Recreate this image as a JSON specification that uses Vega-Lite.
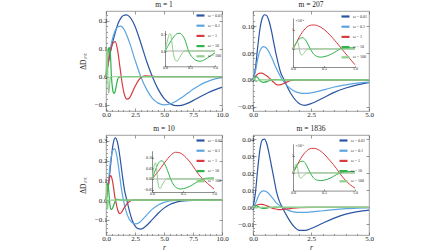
{
"$schema":"https://vega.github.io/schema/vega-lite/v6.json",
"background":"white",
"padding":{"left":78,"top":0,"right":2,"bottom":0},
"bounds":"flush",
"columns":2,
"spacing":{"row":24,"column":31},
"resolve":{"scale":{"color":"independent"},"legend":{"color":"independent"}},
"datasets":{
"zero":[{"a":0,"b":1,"z":0}],
"m1":[
{"w":"0.01","r":0,"v":0},{"w":"0.01","r":0.25,"v":0.06},{"w":"0.01","r":0.5,"v":0.11},{"w":"0.01","r":0.75,"v":0.15},{"w":"0.01","r":1,"v":0.185},{"w":"0.01","r":1.25,"v":0.207},{"w":"0.01","r":1.5,"v":0.218},{"w":"0.01","r":1.75,"v":0.22},{"w":"0.01","r":2,"v":0.215},{"w":"0.01","r":2.5,"v":0.18},{"w":"0.01","r":3,"v":0.12},{"w":"0.01","r":3.5,"v":0.055},{"w":"0.01","r":4,"v":0},{"w":"0.01","r":4.5,"v":-0.045},{"w":"0.01","r":5,"v":-0.077},{"w":"0.01","r":5.5,"v":-0.095},{"w":"0.01","r":6,"v":-0.103},{"w":"0.01","r":6.5,"v":-0.102},{"w":"0.01","r":7,"v":-0.095},{"w":"0.01","r":7.5,"v":-0.085},{"w":"0.01","r":8,"v":-0.074},{"w":"0.01","r":8.5,"v":-0.063},{"w":"0.01","r":9,"v":-0.053},{"w":"0.01","r":9.5,"v":-0.045},{"w":"0.01","r":10,"v":-0.038},
{"w":"0.1","r":0,"v":0},{"w":"0.1","r":0.25,"v":0.07},{"w":"0.1","r":0.5,"v":0.125},{"w":"0.1","r":0.75,"v":0.16},{"w":"0.1","r":1,"v":0.177},{"w":"0.1","r":1.25,"v":0.18},{"w":"0.1","r":1.5,"v":0.172},{"w":"0.1","r":2,"v":0.125},{"w":"0.1","r":2.5,"v":0.06},{"w":"0.1","r":3,"v":0},{"w":"0.1","r":3.5,"v":-0.045},{"w":"0.1","r":4,"v":-0.077},{"w":"0.1","r":4.5,"v":-0.094},{"w":"0.1","r":5,"v":-0.1},{"w":"0.1","r":5.5,"v":-0.097},{"w":"0.1","r":6,"v":-0.088},{"w":"0.1","r":6.5,"v":-0.075},{"w":"0.1","r":7,"v":-0.06},{"w":"0.1","r":7.5,"v":-0.045},{"w":"0.1","r":8,"v":-0.032},{"w":"0.1","r":8.5,"v":-0.021},{"w":"0.1","r":9,"v":-0.013},{"w":"0.1","r":9.5,"v":-0.007},{"w":"0.1","r":10,"v":-0.003},
{"w":"1","r":0,"v":0},{"w":"1","r":0.2,"v":0.05},{"w":"1","r":0.4,"v":0.095},{"w":"1","r":0.6,"v":0.12},{"w":"1","r":0.8,"v":0.125},{"w":"1","r":1,"v":0.095},{"w":"1","r":1.2,"v":0.035},{"w":"1","r":1.4,"v":-0.025},{"w":"1","r":1.6,"v":-0.065},{"w":"1","r":1.8,"v":-0.08},{"w":"1","r":2,"v":-0.077},{"w":"1","r":2.2,"v":-0.062},{"w":"1","r":2.5,"v":-0.035},{"w":"1","r":2.8,"v":-0.013},{"w":"1","r":3.1,"v":0},{"w":"1","r":3.4,"v":0.003},{"w":"1","r":3.8,"v":0.002},{"w":"1","r":4.5,"v":0},{"w":"1","r":10,"v":0},
{"w":"10","r":0,"v":0},{"w":"10","r":0.05,"v":0.025},{"w":"10","r":0.1,"v":0.05},{"w":"10","r":0.15,"v":0.073},{"w":"10","r":0.2,"v":0.092},{"w":"10","r":0.25,"v":0.103},{"w":"10","r":0.3,"v":0.104},{"w":"10","r":0.35,"v":0.092},{"w":"10","r":0.4,"v":0.065},{"w":"10","r":0.47,"v":0},{"w":"10","r":0.55,"v":-0.038},{"w":"10","r":0.62,"v":-0.055},{"w":"10","r":0.7,"v":-0.06},{"w":"10","r":0.8,"v":-0.05},{"w":"10","r":0.9,"v":-0.03},{"w":"10","r":1,"v":-0.01},{"w":"10","r":1.1,"v":-0.003},{"w":"10","r":1.3,"v":0},{"w":"10","r":10,"v":0},
{"w":"100","r":0,"v":0},{"w":"100","r":0.03,"v":0.04},{"w":"100","r":0.06,"v":0.075},{"w":"100","r":0.09,"v":0.1},{"w":"100","r":0.11,"v":0.1},{"w":"100","r":0.13,"v":0.07},{"w":"100","r":0.16,"v":0},{"w":"100","r":0.19,"v":-0.042},{"w":"100","r":0.22,"v":-0.058},{"w":"100","r":0.25,"v":-0.058},{"w":"100","r":0.29,"v":-0.04},{"w":"100","r":0.34,"v":-0.015},{"w":"100","r":0.39,"v":0},{"w":"100","r":1,"v":0},{"w":"100","r":10,"v":0}
],
"m1i":[
{"w":"10","r":0,"v":0},{"w":"10","r":0.05,"v":0.025},{"w":"10","r":0.1,"v":0.05},{"w":"10","r":0.15,"v":0.073},{"w":"10","r":0.2,"v":0.092},{"w":"10","r":0.25,"v":0.103},{"w":"10","r":0.3,"v":0.104},{"w":"10","r":0.35,"v":0.092},{"w":"10","r":0.4,"v":0.065},{"w":"10","r":0.47,"v":0},{"w":"10","r":0.55,"v":-0.038},{"w":"10","r":0.62,"v":-0.055},{"w":"10","r":0.7,"v":-0.06},{"w":"10","r":0.8,"v":-0.05},{"w":"10","r":0.9,"v":-0.03},{"w":"10","r":1,"v":-0.01},
{"w":"100","r":0,"v":0},{"w":"100","r":0.03,"v":0.04},{"w":"100","r":0.06,"v":0.075},{"w":"100","r":0.09,"v":0.1},{"w":"100","r":0.11,"v":0.1},{"w":"100","r":0.13,"v":0.07},{"w":"100","r":0.16,"v":0},{"w":"100","r":0.19,"v":-0.042},{"w":"100","r":0.22,"v":-0.058},{"w":"100","r":0.25,"v":-0.058},{"w":"100","r":0.29,"v":-0.04},{"w":"100","r":0.34,"v":-0.015},{"w":"100","r":0.39,"v":0},{"w":"100","r":1,"v":0}
],
"m207":[
{"w":"0.01","r":0,"v":0},{"w":"0.01","r":0.1,"v":0.02},{"w":"0.01","r":0.2,"v":0.06},{"w":"0.01","r":0.3,"v":0.095},{"w":"0.01","r":0.4,"v":0.115},{"w":"0.01","r":0.5,"v":0.121},{"w":"0.01","r":0.6,"v":0.119},{"w":"0.01","r":0.7,"v":0.108},{"w":"0.01","r":0.8,"v":0.09},{"w":"0.01","r":0.9,"v":0.068},{"w":"0.01","r":1,"v":0.047},{"w":"0.01","r":1.2,"v":0.013},{"w":"0.01","r":1.35,"v":0},{"w":"0.01","r":1.5,"v":-0.015},{"w":"0.01","r":1.75,"v":-0.033},{"w":"0.01","r":2,"v":-0.044},{"w":"0.01","r":2.25,"v":-0.047},{"w":"0.01","r":2.5,"v":-0.044},{"w":"0.01","r":3,"v":-0.034},{"w":"0.01","r":3.5,"v":-0.023},{"w":"0.01","r":4,"v":-0.015},{"w":"0.01","r":4.5,"v":-0.009},{"w":"0.01","r":5,"v":-0.005},
{"w":"0.1","r":0,"v":0},{"w":"0.1","r":0.1,"v":0.015},{"w":"0.1","r":0.2,"v":0.038},{"w":"0.1","r":0.3,"v":0.054},{"w":"0.1","r":0.45,"v":0.062},{"w":"0.1","r":0.6,"v":0.058},{"w":"0.1","r":0.8,"v":0.042},{"w":"0.1","r":1,"v":0.022},{"w":"0.1","r":1.27,"v":0},{"w":"0.1","r":1.5,"v":-0.012},{"w":"0.1","r":1.75,"v":-0.02},{"w":"0.1","r":2,"v":-0.024},{"w":"0.1","r":2.25,"v":-0.025},{"w":"0.1","r":2.5,"v":-0.024},{"w":"0.1","r":3,"v":-0.019},{"w":"0.1","r":3.5,"v":-0.013},{"w":"0.1","r":4,"v":-0.009},{"w":"0.1","r":4.5,"v":-0.006},{"w":"0.1","r":5,"v":-0.004},
{"w":"1","r":0,"v":0},{"w":"1","r":0.05,"v":0.003},{"w":"1","r":0.1,"v":0.0062},{"w":"1","r":0.15,"v":0.0088},{"w":"1","r":0.2,"v":0.0108},{"w":"1","r":0.25,"v":0.0121},{"w":"1","r":0.3,"v":0.0126},{"w":"1","r":0.35,"v":0.0126},{"w":"1","r":0.4,"v":0.0122},{"w":"1","r":0.5,"v":0.0103},{"w":"1","r":0.6,"v":0.0072},{"w":"1","r":0.7,"v":0.0035},{"w":"1","r":0.8,"v":-0.0005},{"w":"1","r":0.9,"v":-0.0045},{"w":"1","r":1,"v":-0.0083},{"w":"1","r":1.1,"v":-0.0093},{"w":"1","r":1.2,"v":-0.0088},{"w":"1","r":1.4,"v":-0.005},{"w":"1","r":1.6,"v":-0.0015},{"w":"1","r":1.8,"v":0},{"w":"1","r":5,"v":0},
{"w":"10","r":0,"v":0},{"w":"10","r":0.04,"v":0.0025},{"w":"10","r":0.08,"v":0.0045},{"w":"10","r":0.12,"v":0.0057},{"w":"10","r":0.16,"v":0.0059},{"w":"10","r":0.2,"v":0.0048},{"w":"10","r":0.24,"v":0.0025},{"w":"10","r":0.28,"v":0},{"w":"10","r":0.32,"v":-0.0022},{"w":"10","r":0.38,"v":-0.0038},{"w":"10","r":0.44,"v":-0.0043},{"w":"10","r":0.5,"v":-0.0041},{"w":"10","r":0.6,"v":-0.003},{"w":"10","r":0.7,"v":-0.0012},{"w":"10","r":0.76,"v":0},{"w":"10","r":0.85,"v":0.0006},{"w":"10","r":1,"v":0.0006},{"w":"10","r":1.2,"v":0.0003},{"w":"10","r":1.5,"v":0},{"w":"10","r":5,"v":0},
{"w":"100","r":0,"v":0},{"w":"100","r":0.03,"v":0.0022},{"w":"100","r":0.06,"v":0.0037},{"w":"100","r":0.08,"v":0.0035},{"w":"100","r":0.1,"v":0.0005},{"w":"100","r":0.12,"v":-0.0025},{"w":"100","r":0.14,"v":-0.0032},{"w":"100","r":0.17,"v":-0.0025},{"w":"100","r":0.2,"v":-0.0012},{"w":"100","r":0.25,"v":0},{"w":"100","r":1,"v":0},{"w":"100","r":5,"v":0}
],
"m207i":[
{"w":"1","r":0,"v":0},{"w":"1","r":0.05,"v":0.003},{"w":"1","r":0.1,"v":0.0062},{"w":"1","r":0.15,"v":0.0088},{"w":"1","r":0.2,"v":0.0108},{"w":"1","r":0.25,"v":0.0121},{"w":"1","r":0.3,"v":0.0126},{"w":"1","r":0.35,"v":0.0126},{"w":"1","r":0.4,"v":0.0122},{"w":"1","r":0.5,"v":0.0103},{"w":"1","r":0.6,"v":0.0072},{"w":"1","r":0.7,"v":0.0035},{"w":"1","r":0.8,"v":-0.0005},{"w":"1","r":0.9,"v":-0.0045},{"w":"1","r":1,"v":-0.0083},
{"w":"10","r":0,"v":0},{"w":"10","r":0.04,"v":0.0025},{"w":"10","r":0.08,"v":0.0045},{"w":"10","r":0.12,"v":0.0057},{"w":"10","r":0.16,"v":0.0059},{"w":"10","r":0.2,"v":0.0048},{"w":"10","r":0.24,"v":0.0025},{"w":"10","r":0.28,"v":0},{"w":"10","r":0.32,"v":-0.0022},{"w":"10","r":0.38,"v":-0.0038},{"w":"10","r":0.44,"v":-0.0043},{"w":"10","r":0.5,"v":-0.0041},{"w":"10","r":0.6,"v":-0.003},{"w":"10","r":0.7,"v":-0.0012},{"w":"10","r":0.76,"v":0},{"w":"10","r":0.85,"v":0.0006},{"w":"10","r":1,"v":0.0006},
{"w":"100","r":0,"v":0},{"w":"100","r":0.03,"v":0.0022},{"w":"100","r":0.06,"v":0.0037},{"w":"100","r":0.08,"v":0.0035},{"w":"100","r":0.1,"v":0.0005},{"w":"100","r":0.12,"v":-0.0025},{"w":"100","r":0.14,"v":-0.0032},{"w":"100","r":0.17,"v":-0.0025},{"w":"100","r":0.2,"v":-0.0012},{"w":"100","r":0.25,"v":0},{"w":"100","r":1,"v":0}
],
"m10":[
{"w":"0.01","r":0,"v":0},{"w":"0.01","r":0.2,"v":0.07},{"w":"0.01","r":0.4,"v":0.18},{"w":"0.01","r":0.6,"v":0.28},{"w":"0.01","r":0.8,"v":0.315},{"w":"0.01","r":1,"v":0.29},{"w":"0.01","r":1.2,"v":0.22},{"w":"0.01","r":1.4,"v":0.13},{"w":"0.01","r":1.6,"v":0.05},{"w":"0.01","r":1.8,"v":0},{"w":"0.01","r":2,"v":-0.05},{"w":"0.01","r":2.25,"v":-0.1},{"w":"0.01","r":2.5,"v":-0.13},{"w":"0.01","r":2.75,"v":-0.144},{"w":"0.01","r":3,"v":-0.146},{"w":"0.01","r":3.5,"v":-0.128},{"w":"0.01","r":4,"v":-0.097},{"w":"0.01","r":4.5,"v":-0.066},{"w":"0.01","r":5,"v":-0.04},{"w":"0.01","r":5.5,"v":-0.022},{"w":"0.01","r":6,"v":-0.011},{"w":"0.01","r":6.5,"v":-0.005},{"w":"0.01","r":7,"v":-0.002},{"w":"0.01","r":8,"v":0},{"w":"0.01","r":10,"v":0},
{"w":"0.1","r":0,"v":0},{"w":"0.1","r":0.2,"v":0.09},{"w":"0.1","r":0.4,"v":0.2},{"w":"0.1","r":0.6,"v":0.255},{"w":"0.1","r":0.75,"v":0.26},{"w":"0.1","r":0.9,"v":0.235},{"w":"0.1","r":1.1,"v":0.16},{"w":"0.1","r":1.3,"v":0.07},{"w":"0.1","r":1.5,"v":0},{"w":"0.1","r":1.7,"v":-0.05},{"w":"0.1","r":2,"v":-0.095},{"w":"0.1","r":2.3,"v":-0.115},{"w":"0.1","r":2.6,"v":-0.12},{"w":"0.1","r":3,"v":-0.107},{"w":"0.1","r":3.5,"v":-0.075},{"w":"0.1","r":4,"v":-0.045},{"w":"0.1","r":4.5,"v":-0.024},{"w":"0.1","r":5,"v":-0.011},{"w":"0.1","r":5.5,"v":-0.004},{"w":"0.1","r":6,"v":-0.001},{"w":"0.1","r":7,"v":0},{"w":"0.1","r":10,"v":0},
{"w":"1","r":0,"v":0},{"w":"1","r":0.1,"v":0.035},{"w":"1","r":0.2,"v":0.075},{"w":"1","r":0.3,"v":0.11},{"w":"1","r":0.38,"v":0.125},{"w":"1","r":0.45,"v":0.122},{"w":"1","r":0.55,"v":0.1},{"w":"1","r":0.65,"v":0.065},{"w":"1","r":0.75,"v":0.022},{"w":"1","r":0.82,"v":0},{"w":"1","r":0.9,"v":-0.022},{"w":"1","r":1,"v":-0.047},{"w":"1","r":1.1,"v":-0.063},{"w":"1","r":1.2,"v":-0.068},{"w":"1","r":1.35,"v":-0.06},{"w":"1","r":1.5,"v":-0.045},{"w":"1","r":1.75,"v":-0.022},{"w":"1","r":2,"v":-0.008},{"w":"1","r":2.3,"v":0},{"w":"1","r":10,"v":0},
{"w":"10","r":0,"v":0},{"w":"10","r":0.04,"v":0.03},{"w":"10","r":0.08,"v":0.06},{"w":"10","r":0.12,"v":0.08},{"w":"10","r":0.16,"v":0.085},{"w":"10","r":0.2,"v":0.072},{"w":"10","r":0.25,"v":0.04},{"w":"10","r":0.3,"v":0},{"w":"10","r":0.35,"v":-0.028},{"w":"10","r":0.4,"v":-0.042},{"w":"10","r":0.46,"v":-0.047},{"w":"10","r":0.55,"v":-0.042},{"w":"10","r":0.65,"v":-0.028},{"w":"10","r":0.75,"v":-0.01},{"w":"10","r":0.82,"v":0},{"w":"10","r":0.9,"v":0.004},{"w":"10","r":1,"v":0.005},{"w":"10","r":1.2,"v":0.002},{"w":"10","r":1.5,"v":0},{"w":"10","r":10,"v":0},
{"w":"100","r":0,"v":0},{"w":"100","r":0.02,"v":0.035},{"w":"100","r":0.04,"v":0.068},{"w":"100","r":0.055,"v":0.076},{"w":"100","r":0.07,"v":0.06},{"w":"100","r":0.09,"v":0},{"w":"100","r":0.11,"v":-0.038},{"w":"100","r":0.13,"v":-0.045},{"w":"100","r":0.16,"v":-0.03},{"w":"100","r":0.2,"v":-0.01},{"w":"100","r":0.24,"v":0},{"w":"100","r":1,"v":0},{"w":"100","r":10,"v":0}
],
"m10i":[
{"w":"1","r":0,"v":0},{"w":"1","r":0.1,"v":0.035},{"w":"1","r":0.2,"v":0.075},{"w":"1","r":0.3,"v":0.11},{"w":"1","r":0.38,"v":0.125},{"w":"1","r":0.45,"v":0.122},{"w":"1","r":0.55,"v":0.1},{"w":"1","r":0.65,"v":0.065},{"w":"1","r":0.75,"v":0.022},{"w":"1","r":0.82,"v":0},{"w":"1","r":0.9,"v":-0.022},{"w":"1","r":1,"v":-0.047},
{"w":"10","r":0,"v":0},{"w":"10","r":0.04,"v":0.03},{"w":"10","r":0.08,"v":0.06},{"w":"10","r":0.12,"v":0.08},{"w":"10","r":0.16,"v":0.085},{"w":"10","r":0.2,"v":0.072},{"w":"10","r":0.25,"v":0.04},{"w":"10","r":0.3,"v":0},{"w":"10","r":0.35,"v":-0.028},{"w":"10","r":0.4,"v":-0.042},{"w":"10","r":0.46,"v":-0.047},{"w":"10","r":0.55,"v":-0.042},{"w":"10","r":0.65,"v":-0.028},{"w":"10","r":0.75,"v":-0.01},{"w":"10","r":0.82,"v":0},{"w":"10","r":0.9,"v":0.004},{"w":"10","r":1,"v":0.005},
{"w":"100","r":0,"v":0},{"w":"100","r":0.02,"v":0.035},{"w":"100","r":0.04,"v":0.068},{"w":"100","r":0.055,"v":0.076},{"w":"100","r":0.07,"v":0.06},{"w":"100","r":0.09,"v":0},{"w":"100","r":0.11,"v":-0.038},{"w":"100","r":0.13,"v":-0.045},{"w":"100","r":0.16,"v":-0.03},{"w":"100","r":0.2,"v":-0.01},{"w":"100","r":0.24,"v":0},{"w":"100","r":1,"v":0}
],
"m1836":[
{"w":"0.01","r":0,"v":0},{"w":"0.01","r":0.1,"v":0.008},{"w":"0.01","r":0.2,"v":0.022},{"w":"0.01","r":0.3,"v":0.034},{"w":"0.01","r":0.4,"v":0.0395},{"w":"0.01","r":0.5,"v":0.04},{"w":"0.01","r":0.6,"v":0.037},{"w":"0.01","r":0.7,"v":0.031},{"w":"0.01","r":0.8,"v":0.024},{"w":"0.01","r":0.9,"v":0.017},{"w":"0.01","r":1,"v":0.01},{"w":"0.01","r":1.1,"v":0.005},{"w":"0.01","r":1.26,"v":0},{"w":"0.01","r":1.5,"v":-0.006},{"w":"0.01","r":1.75,"v":-0.011},{"w":"0.01","r":2,"v":-0.0135},{"w":"0.01","r":2.25,"v":-0.0135},{"w":"0.01","r":2.5,"v":-0.0124},{"w":"0.01","r":3,"v":-0.0093},{"w":"0.01","r":3.5,"v":-0.0063},{"w":"0.01","r":4,"v":-0.004},{"w":"0.01","r":4.5,"v":-0.0025},{"w":"0.01","r":5,"v":-0.0016},
{"w":"0.1","r":0,"v":0},{"w":"0.1","r":0.1,"v":0.002},{"w":"0.1","r":0.2,"v":0.0055},{"w":"0.1","r":0.3,"v":0.0083},{"w":"0.1","r":0.45,"v":0.0096},{"w":"0.1","r":0.6,"v":0.009},{"w":"0.1","r":0.8,"v":0.0062},{"w":"0.1","r":1,"v":0.0028},{"w":"0.1","r":1.26,"v":0},{"w":"0.1","r":1.5,"v":-0.0016},{"w":"0.1","r":1.75,"v":-0.0026},{"w":"0.1","r":2,"v":-0.003},{"w":"0.1","r":2.25,"v":-0.003},{"w":"0.1","r":2.5,"v":-0.0027},{"w":"0.1","r":3,"v":-0.002},{"w":"0.1","r":3.5,"v":-0.0013},{"w":"0.1","r":4,"v":-0.0008},{"w":"0.1","r":4.5,"v":-0.0005},{"w":"0.1","r":5,"v":-0.0003},
{"w":"1","r":0,"v":0},{"w":"1","r":0.1,"v":0.0009},{"w":"1","r":0.2,"v":0.0015},{"w":"1","r":0.3,"v":0.0018},{"w":"1","r":0.4,"v":0.0017},{"w":"1","r":0.5,"v":0.0014},{"w":"1","r":0.6,"v":0.0009},{"w":"1","r":0.75,"v":0},{"w":"1","r":0.9,"v":-0.0007},{"w":"1","r":1.1,"v":-0.0013},{"w":"1","r":1.3,"v":-0.0012},{"w":"1","r":1.6,"v":-0.0007},{"w":"1","r":2,"v":-0.0001},{"w":"1","r":2.5,"v":0},{"w":"1","r":5,"v":0},
{"w":"10","r":0,"v":0},{"w":"10","r":0.08,"v":0.0007},{"w":"10","r":0.16,"v":0.0009},{"w":"10","r":0.28,"v":0},{"w":"10","r":0.44,"v":-0.0006},{"w":"10","r":0.6,"v":-0.0004},{"w":"10","r":0.76,"v":0},{"w":"10","r":1,"v":0.0001},{"w":"10","r":1.5,"v":0},{"w":"10","r":5,"v":0},
{"w":"100","r":0,"v":0},{"w":"100","r":0.05,"v":0.0007},{"w":"100","r":0.09,"v":0},{"w":"100","r":0.13,"v":-0.0004},{"w":"100","r":0.24,"v":0},{"w":"100","r":5,"v":0}
],
"m1836i":[
{"w":"1","r":0,"v":0},{"w":"1","r":0.05,"v":0.0017},{"w":"1","r":0.1,"v":0.0034},{"w":"1","r":0.15,"v":0.0049},{"w":"1","r":0.2,"v":0.006},{"w":"1","r":0.25,"v":0.0068},{"w":"1","r":0.3,"v":0.0071},{"w":"1","r":0.35,"v":0.0071},{"w":"1","r":0.4,"v":0.0068},{"w":"1","r":0.5,"v":0.0055},{"w":"1","r":0.6,"v":0.0035},{"w":"1","r":0.7,"v":0.0013},{"w":"1","r":0.75,"v":0},{"w":"1","r":0.85,"v":-0.0022},{"w":"1","r":1,"v":-0.0044},
{"w":"10","r":0,"v":0},{"w":"10","r":0.04,"v":0.0014},{"w":"10","r":0.08,"v":0.0026},{"w":"10","r":0.12,"v":0.0033},{"w":"10","r":0.16,"v":0.0034},{"w":"10","r":0.2,"v":0.0028},{"w":"10","r":0.24,"v":0.0014},{"w":"10","r":0.28,"v":0},{"w":"10","r":0.32,"v":-0.0012},{"w":"10","r":0.38,"v":-0.002},{"w":"10","r":0.44,"v":-0.0022},{"w":"10","r":0.5,"v":-0.0021},{"w":"10","r":0.6,"v":-0.0015},{"w":"10","r":0.7,"v":-0.0005},{"w":"10","r":0.76,"v":0},{"w":"10","r":0.85,"v":0.0004},{"w":"10","r":1,"v":0.0004},
{"w":"100","r":0,"v":0},{"w":"100","r":0.02,"v":0.0012},{"w":"100","r":0.04,"v":0.0023},{"w":"100","r":0.055,"v":0.0026},{"w":"100","r":0.07,"v":0.0018},{"w":"100","r":0.09,"v":-0.0002},{"w":"100","r":0.11,"v":-0.0013},{"w":"100","r":0.13,"v":-0.0015},{"w":"100","r":0.16,"v":-0.001},{"w":"100","r":0.2,"v":-0.0003},{"w":"100","r":0.24,"v":0},{"w":"100","r":1,"v":0}
]
},
"concat":[
{"width":116,"height":100,"title":{"text":"m = 1"},
 "layer":[
  {"data":{"name":"m1"},"mark":{"type":"line","strokeWidth":1.2,"interpolate":"monotone"},
   "encoding":{
    "x":{"field":"r","type":"quantitative","scale":{"domain":[0,10],"nice":false,"zero":false},"axis":{"values":[0,2.5,5,7.5,10],"format":".1f","title":null}},
    "y":{"field":"v","type":"quantitative","scale":{"domain":[-0.122,0.234],"nice":false,"zero":false},"axis":{"values":[-0.1,0,0.1,0.2],"format":".1f","title":"ΔDᵢₙₜ","minExtent":16,"maxExtent":16,"titlePadding":3}},
    "color":{"field":"w","type":"nominal","scale":{"domain":["0.01","0.1","1","10","100"],"range":["#2a55a3","#5ba4e0","#d73a3f","#2fb34d","#8fce8c"]},"legend":{"legendX":91,"legendY":1,"labelExpr":"'ω = ' + datum.label"}}}},
  {"data":{"name":"zero"},"mark":{"type":"point","opacity":0},
   "encoding":{"x":{"field":"a","type":"quantitative","scale":{"domain":[0,10],"nice":false,"zero":false},"axis":{"orient":"top","values":[0,2.5,5,7.5,10],"labels":false,"title":null}},
    "y":{"field":"z","type":"quantitative","scale":{"domain":[-0.122,0.234],"nice":false,"zero":false},"axis":{"orient":"right","values":[-0.1,0,0.1,0.2],"labels":false,"title":null}}}},
  {"data":{"name":"zero"},"mark":{"type":"point","opacity":0},
   "encoding":{"x":{"field":"a","type":"quantitative","scale":{"domain":[0,10],"nice":false,"zero":false},"axis":{"orient":"bottom","values":[0.5,1,1.5,2,3,3.5,4,4.5,5.5,6,6.5,7,8,8.5,9,9.5],"labels":false,"title":null,"tickSize":-1.5}},
    "y":{"field":"z","type":"quantitative","scale":{"domain":[-0.122,0.234],"nice":false,"zero":false},"axis":{"orient":"left","values":[-0.12,-0.08,-0.06,-0.04,-0.02,0.02,0.04,0.06,0.08,0.12,0.14,0.16,0.18,0.22],"labels":false,"title":null,"tickSize":-1.5}}}},
  {"data":{"name":"zero"},"mark":{"type":"rule","color":"#8a8a8a","strokeWidth":0.7},
   "encoding":{"x":{"field":"a","type":"quantitative","scale":{"domain":[0,1],"range":[59,109],"nice":false,"zero":false},"axis":null},"x2":{"field":"b"},
    "y":{"field":"z","type":"quantitative","scale":{"domain":[-0.09,0.12],"range":[55.3,19.6],"nice":false,"zero":false},"axis":null}}},
  {"data":{"name":"m1i"},"mark":{"type":"line","strokeWidth":1,"interpolate":"monotone"},
   "encoding":{
    "x":{"field":"r","type":"quantitative","scale":{"domain":[0,1],"range":[59,109],"nice":false,"zero":false},"axis":{"orient":"bottom","offset":-44.7,"values":[0,0.5,1],"format":".1f","title":null,"domain":true,"domainColor":"#444","domainWidth":0.6,"tickSize":-1.5,"labelFontSize":4,"labelPadding":1}},
    "y":{"field":"v","type":"quantitative","scale":{"domain":[-0.09,0.12],"range":[55.3,19.6],"nice":false,"zero":false},"axis":{"orient":"left","offset":-59,"values":[0,0.1],"format":".1f","title":null,"domain":true,"domainColor":"#444","domainWidth":0.6,"tickSize":-1.5,"labelFontSize":4,"labelPadding":1}},
    "color":{"field":"w","type":"nominal","scale":{"domain":["0.01","0.1","1","10","100"],"range":["#2a55a3","#5ba4e0","#d73a3f","#2fb34d","#8fce8c"]}}}}
 ],
 "resolve":{"scale":{"x":"independent","y":"independent"}}},
{"width":116,"height":100,"title":{"text":"m = 207"},
 "layer":[
  {"data":{"name":"m207"},"mark":{"type":"line","strokeWidth":1.2,"interpolate":"monotone"},
   "encoding":{
    "x":{"field":"r","type":"quantitative","scale":{"domain":[0,5],"nice":false,"zero":false},"axis":{"values":[0,2.5,5],"format":".1f","title":null}},
    "y":{"field":"v","type":"quantitative","scale":{"domain":[-0.0576,0.128],"nice":false,"zero":false},"axis":{"values":[-0.05,0,0.05,0.1],"format":".2f","title":null}},
    "color":{"field":"w","type":"nominal","scale":{"domain":["0.01","0.1","1","10","100"],"range":["#2a55a3","#5ba4e0","#d73a3f","#2fb34d","#8fce8c"]},"legend":{"legendX":89,"legendY":2,"labelExpr":"'ω = ' + datum.label"}}}},
  {"data":{"name":"zero"},"mark":{"type":"point","opacity":0},
   "encoding":{"x":{"field":"a","type":"quantitative","scale":{"domain":[0,5],"nice":false,"zero":false},"axis":{"orient":"top","values":[0,2.5,5],"labels":false,"title":null}},
    "y":{"field":"z","type":"quantitative","scale":{"domain":[-0.0576,0.128],"nice":false,"zero":false},"axis":{"orient":"right","values":[-0.05,0,0.05,0.1],"labels":false,"title":null}}}},
  {"data":{"name":"zero"},"mark":{"type":"point","opacity":0},
   "encoding":{"x":{"field":"a","type":"quantitative","scale":{"domain":[0,5],"nice":false,"zero":false},"axis":{"orient":"bottom","values":[0.5,1,1.5,2,3,3.5,4,4.5],"labels":false,"title":null,"tickSize":-1.5}},
    "y":{"field":"z","type":"quantitative","scale":{"domain":[-0.0576,0.128],"nice":false,"zero":false},"axis":{"orient":"left","values":[-0.04,-0.03,-0.02,-0.01,0.01,0.02,0.03,0.04,0.06,0.07,0.08,0.09,0.11,0.12],"labels":false,"title":null,"tickSize":-1.5}}}},
  {"data":{"name":"zero"},"mark":{"type":"rule","color":"#8a8a8a","strokeWidth":0.7},
   "encoding":{"x":{"field":"a","type":"quantitative","scale":{"domain":[0,1],"range":[40,102],"nice":false,"zero":false},"axis":null},"x2":{"field":"b"},
    "y":{"field":"z","type":"quantitative","scale":{"domain":[-0.0095,0.0163],"range":[56,7],"nice":false,"zero":false},"axis":null}}},
  {"data":{"name":"m207i"},"mark":{"type":"line","strokeWidth":1,"interpolate":"monotone"},
   "encoding":{
    "x":{"field":"r","type":"quantitative","scale":{"domain":[0,1],"range":[40,102],"nice":false,"zero":false},"axis":{"orient":"bottom","offset":-44,"values":[0,0.5,1],"format":".1f","title":null,"domain":true,"domainColor":"#444","domainWidth":0.6,"tickSize":-1.5,"labelFontSize":4,"labelPadding":1}},
    "y":{"field":"v","type":"quantitative","scale":{"domain":[-0.0095,0.0163],"range":[56,7],"nice":false,"zero":false},"axis":{"orient":"left","offset":-40,"values":[0,0.01],"labelExpr":"datum.value == 0 ? '0' : '1'","title":"×10⁻²","titleAngle":0,"titleX":2,"titleY":9,"titleAlign":"left","titleBaseline":"middle","titleFontSize":4,"domain":true,"domainColor":"#444","domainWidth":0.6,"tickSize":-1.5,"labelFontSize":4,"labelPadding":1}},
    "color":{"field":"w","type":"nominal","scale":{"domain":["0.01","0.1","1","10","100"],"range":["#2a55a3","#5ba4e0","#d73a3f","#2fb34d","#8fce8c"]}}}}
 ],
 "resolve":{"scale":{"x":"independent","y":"independent"}}},
{"width":116,"height":100,"title":{"text":"m = 10"},
 "layer":[
  {"data":{"name":"m10"},"mark":{"type":"line","strokeWidth":1.2,"interpolate":"monotone"},
   "encoding":{
    "x":{"field":"r","type":"quantitative","scale":{"domain":[0,10],"nice":false,"zero":false},"axis":{"values":[0,2.5,5,7.5,10],"format":".1f","title":"r","titleFontStyle":"italic","titlePadding":2}},
    "y":{"field":"v","type":"quantitative","scale":{"domain":[-0.176,0.33],"nice":false,"zero":false},"axis":{"values":[-0.1,0,0.1,0.2,0.3],"format":".1f","title":"ΔDᵢₙₜ","minExtent":16,"maxExtent":16,"titlePadding":3}},
    "color":{"field":"w","type":"nominal","scale":{"domain":["0.01","0.1","1","10","100"],"range":["#2a55a3","#5ba4e0","#d73a3f","#2fb34d","#8fce8c"]},"legend":{"legendX":91,"legendY":2,"labelExpr":"'ω = ' + datum.label"}}}},
  {"data":{"name":"zero"},"mark":{"type":"point","opacity":0},
   "encoding":{"x":{"field":"a","type":"quantitative","scale":{"domain":[0,10],"nice":false,"zero":false},"axis":{"orient":"top","values":[0,2.5,5,7.5,10],"labels":false,"title":null}},
    "y":{"field":"z","type":"quantitative","scale":{"domain":[-0.176,0.33],"nice":false,"zero":false},"axis":{"orient":"right","values":[-0.1,0,0.1,0.2,0.3],"labels":false,"title":null}}}},
  {"data":{"name":"zero"},"mark":{"type":"point","opacity":0},
   "encoding":{"x":{"field":"a","type":"quantitative","scale":{"domain":[0,10],"nice":false,"zero":false},"axis":{"orient":"bottom","values":[0.5,1,1.5,2,3,3.5,4,4.5,5.5,6,6.5,7,8,8.5,9,9.5],"labels":false,"title":null,"tickSize":-1.5}},
    "y":{"field":"z","type":"quantitative","scale":{"domain":[-0.176,0.33],"nice":false,"zero":false},"axis":{"orient":"left","values":[-0.16,-0.14,-0.12,-0.08,-0.06,-0.04,-0.02,0.02,0.04,0.06,0.08,0.12,0.14,0.16,0.18,0.22,0.24,0.26,0.28,0.32],"labels":false,"title":null,"tickSize":-1.5}}}},
  {"data":{"name":"zero"},"mark":{"type":"rule","color":"#8a8a8a","strokeWidth":0.7},
   "encoding":{"x":{"field":"a","type":"quantitative","scale":{"domain":[0,1],"range":[46,108],"nice":false,"zero":false},"axis":null},"x2":{"field":"b"},
    "y":{"field":"z","type":"quantitative","scale":{"domain":[-0.061,0.132],"range":[57,15.75],"nice":false,"zero":false},"axis":null}}},
  {"data":{"name":"m10i"},"mark":{"type":"line","strokeWidth":1,"interpolate":"monotone"},
   "encoding":{
    "x":{"field":"r","type":"quantitative","scale":{"domain":[0,1],"range":[46,108],"nice":false,"zero":false},"axis":{"orient":"bottom","offset":-43,"values":[0,0.5,1],"format":".1f","title":null,"domain":true,"domainColor":"#444","domainWidth":0.6,"tickSize":-1.5,"labelFontSize":4,"labelPadding":1}},
    "y":{"field":"v","type":"quantitative","scale":{"domain":[-0.061,0.132],"range":[57,15.75],"nice":false,"zero":false},"axis":{"orient":"left","offset":-46,"values":[-0.05,0,0.05,0.1],"format":".2f","title":null,"domain":true,"domainColor":"#444","domainWidth":0.6,"tickSize":-1.5,"labelFontSize":4,"labelPadding":1}},
    "color":{"field":"w","type":"nominal","scale":{"domain":["0.01","0.1","1","10","100"],"range":["#2a55a3","#5ba4e0","#d73a3f","#2fb34d","#8fce8c"]}}}}
 ],
 "resolve":{"scale":{"x":"independent","y":"independent"}}},
{"width":116,"height":100,"title":{"text":"m = 1836"},
 "layer":[
  {"data":{"name":"m1836"},"mark":{"type":"line","strokeWidth":1.2,"interpolate":"monotone"},
   "encoding":{
    "x":{"field":"r","type":"quantitative","scale":{"domain":[0,5],"nice":false,"zero":false},"axis":{"values":[0,2.5,5],"format":".1f","title":"r","titleFontStyle":"italic","titlePadding":2}},
    "y":{"field":"v","type":"quantitative","scale":{"domain":[-0.0162,0.0424],"nice":false,"zero":false},"axis":{"values":[-0.01,0,0.01,0.02,0.03,0.04],"format":".2f","title":null}},
    "color":{"field":"w","type":"nominal","scale":{"domain":["0.01","0.1","1","10","100"],"range":["#2a55a3","#5ba4e0","#d73a3f","#2fb34d","#8fce8c"]},"legend":{"legendX":87,"legendY":2,"labelExpr":"'ω = ' + datum.label"}}}},
  {"data":{"name":"zero"},"mark":{"type":"point","opacity":0},
   "encoding":{"x":{"field":"a","type":"quantitative","scale":{"domain":[0,5],"nice":false,"zero":false},"axis":{"orient":"top","values":[0,2.5,5],"labels":false,"title":null}},
    "y":{"field":"z","type":"quantitative","scale":{"domain":[-0.0162,0.0424],"nice":false,"zero":false},"axis":{"orient":"right","values":[-0.01,0,0.01,0.02,0.03,0.04],"labels":false,"title":null}}}},
  {"data":{"name":"zero"},"mark":{"type":"point","opacity":0},
   "encoding":{"x":{"field":"a","type":"quantitative","scale":{"domain":[0,5],"nice":false,"zero":false},"axis":{"orient":"bottom","values":[0.5,1,1.5,2,3,3.5,4,4.5],"labels":false,"title":null,"tickSize":-1.5}},
    "y":{"field":"z","type":"quantitative","scale":{"domain":[-0.0162,0.0424],"nice":false,"zero":false},"axis":{"orient":"left","values":[-0.016,-0.014,-0.012,-0.008,-0.006,-0.004,-0.002,0.002,0.004,0.006,0.008,0.012,0.014,0.016,0.018,0.022,0.024,0.026,0.028,0.032,0.034,0.036,0.038,0.042],"labels":false,"title":null,"tickSize":-1.5}}}},
  {"data":{"name":"zero"},"mark":{"type":"rule","color":"#8a8a8a","strokeWidth":0.7},
   "encoding":{"x":{"field":"a","type":"quantitative","scale":{"domain":[0,1],"range":[40,102],"nice":false,"zero":false},"axis":null},"x2":{"field":"b"},
    "y":{"field":"z","type":"quantitative","scale":{"domain":[-0.0051,0.0084],"range":[55.6,8.9],"nice":false,"zero":false},"axis":null}}},
  {"data":{"name":"m1836i"},"mark":{"type":"line","strokeWidth":1,"interpolate":"monotone"},
   "encoding":{
    "x":{"field":"r","type":"quantitative","scale":{"domain":[0,1],"range":[40,102],"nice":false,"zero":false},"axis":{"orient":"bottom","offset":-44.4,"values":[0,0.5,1],"format":".1f","title":null,"domain":true,"domainColor":"#444","domainWidth":0.6,"tickSize":-1.5,"labelFontSize":4,"labelPadding":1}},
    "y":{"field":"v","type":"quantitative","scale":{"domain":[-0.0051,0.0084],"range":[55.6,8.9],"nice":false,"zero":false},"axis":{"orient":"left","offset":-40,"values":[0,0.005],"labelExpr":"datum.value == 0 ? '0' : '5'","title":"×10⁻³","titleAngle":0,"titleX":2,"titleY":10,"titleAlign":"left","titleBaseline":"middle","titleFontSize":4,"domain":true,"domainColor":"#444","domainWidth":0.6,"tickSize":-1.5,"labelFontSize":4,"labelPadding":1}},
    "color":{"field":"w","type":"nominal","scale":{"domain":["0.01","0.1","1","10","100"],"range":["#2a55a3","#5ba4e0","#d73a3f","#2fb34d","#8fce8c"]}}}}
 ],
 "resolve":{"scale":{"x":"independent","y":"independent"}}}
],
"config":{
 "font":"Liberation Serif",
 "view":{"stroke":"#888","strokeWidth":0.8},
 "axis":{"grid":false,"domain":false,"ticks":true,"tickSize":-3,"tickColor":"#555","tickWidth":0.6,"labelFont":"Liberation Serif","labelFontSize":7,"labelColor":"#222","labelPadding":2,"labelFlush":false,"labelOverlap":false,"titleFont":"Liberation Serif","titleFontSize":7.5,"titleFontWeight":"normal","titleColor":"#222","titlePadding":3},
 "title":{"font":"Liberation Serif","fontSize":7.5,"fontWeight":"normal","color":"#222","offset":2,"anchor":"middle"},
 "legend":{"orient":"none","title":null,"symbolType":"M-2,0H2","symbolSize":16,"symbolStrokeWidth":2.2,"labelFontSize":4,"labelFont":"Liberation Serif","labelColor":"#222","rowPadding":1.2,"labelOffset":4,"padding":0,"symbolOpacity":1}
}
}
